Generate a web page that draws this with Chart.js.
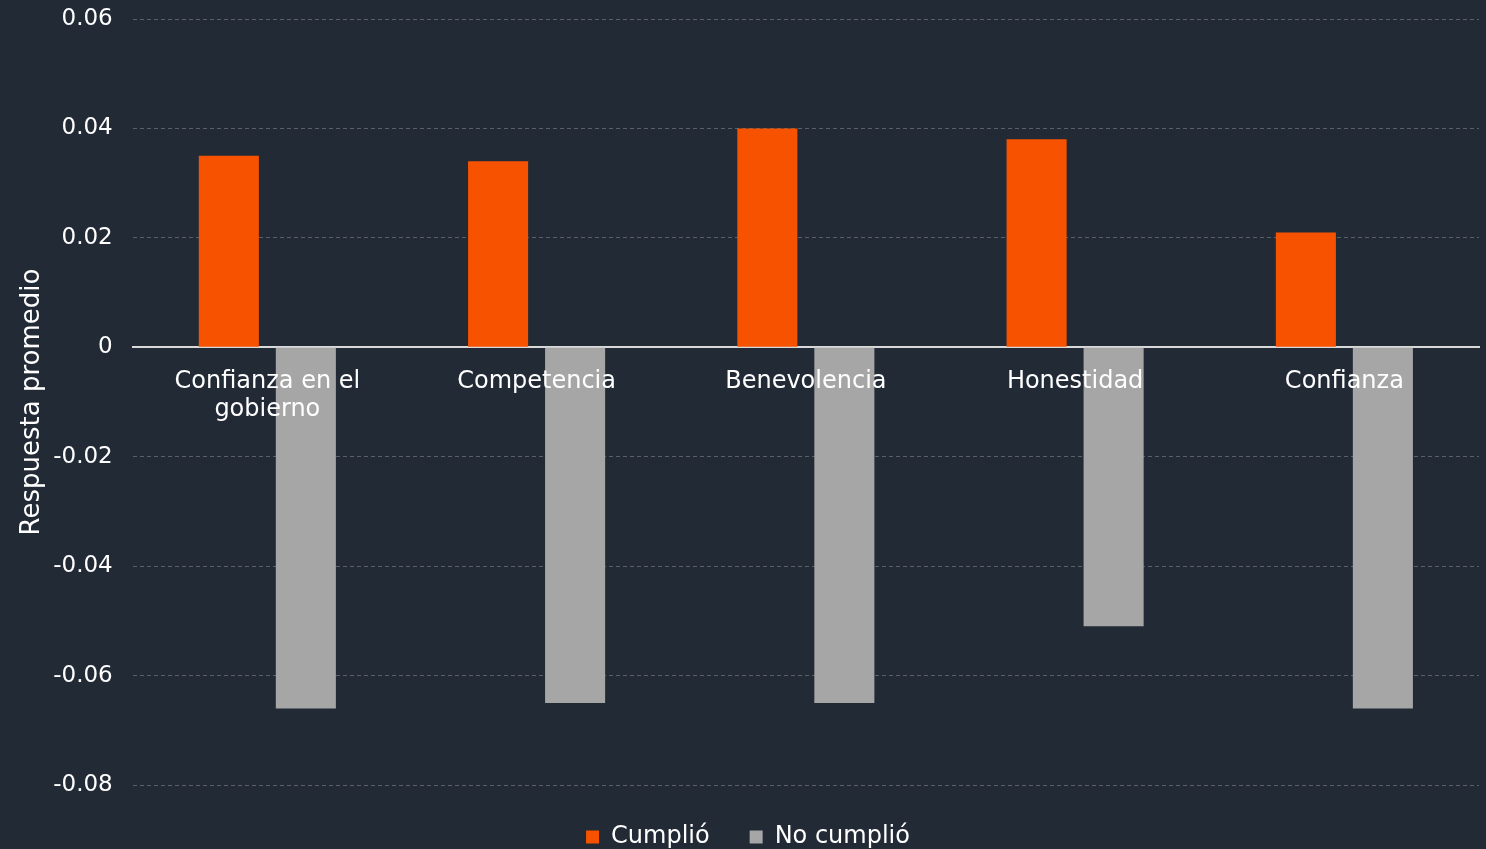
<!DOCTYPE html>
<html>
<head>
<meta charset="utf-8">
<script src="https://cdn.jsdelivr.net/npm/chart.js@4"></script>
<style>
  html, body { margin: 0; padding: 0; background: #222a36; }
  #wrap { width: 1486px; height: 849px; }
</style>
</head>
<body>
<div id="wrap"><canvas id="chart"></canvas></div>
<script>
const categories = [['Confianza en el', 'gobierno'], 'Competencia', 'Benevolencia', 'Honestidad', 'Confianza'];
const cumplio = [0.035, 0.034, 0.040, 0.038, 0.021];
const noCumplio = [-0.066, -0.065, -0.065, -0.051, -0.066];

const FONT = "'DejaVu Sans', sans-serif";

// fixed legend height so the plot ends where the original does
const legendHeight = {
  id: 'legendHeight',
  beforeInit(chart) {
    const fit = chart.legend.fit;
    chart.legend.fit = function () {
      fit.call(this);
      this.height = 64;
    };
  },
};

new Chart(document.getElementById('chart'), {
  type: 'bar',
  data: {
    labels: categories,
    datasets: [
      {
        label: 'Cumplió',
        data: cumplio,
        backgroundColor: '#f75200',
        categoryPercentage: 0.572,
        barPercentage: 0.78,
      },
      {
        label: 'No cumplió',
        data: noCumplio,
        backgroundColor: '#a6a6a6',
        categoryPercentage: 0.572,
        barPercentage: 0.78,
      },
    ],
  },
  options: {
    responsive: true,
    maintainAspectRatio: false,
    animation: false,
    layout: { padding: { top: 19, right: 7, bottom: 0, left: 17 } },
    scales: {
      x: {
        position: { y: 0 },
        grid: { display: false, drawTicks: false },
        border: { display: true, color: '#d9d9d9', width: 2 },
        ticks: {
          z: 1,
          color: '#ffffff',
          font: { family: FONT, size: 24, lineHeight: 1.17 },
          padding: 20,
          maxRotation: 0,
          autoSkip: false,
        },
      },
      y: {
        min: -0.08,
        max: 0.06,
        grid: { color: '#5b6068', lineWidth: 1, drawTicks: true, tickLength: 20, tickColor: 'rgba(0,0,0,0)' },
        border: { display: false, dash: [4, 3] },
        ticks: {
          stepSize: 0.02,
          color: '#ffffff',
          font: { family: FONT, size: 23 },
          padding: 0,
          callback: (v) => String(Number(v.toFixed(2))),
        },
        title: {
          display: true,
          text: 'Respuesta promedio',
          color: '#ffffff',
          font: { family: FONT, size: 26 },
          padding: { top: 0, bottom: 5 },
        },
      },
    },
    plugins: {
      legend: {
        position: 'bottom',
        labels: {
          color: '#ffffff',
          font: { family: FONT, size: 24 },
          boxWidth: 13,
          boxHeight: 13,
          padding: 40,
        },
      },
      tooltip: { enabled: false },
    },
  },
  plugins: [legendHeight],
});
</script>
</body>
</html>
